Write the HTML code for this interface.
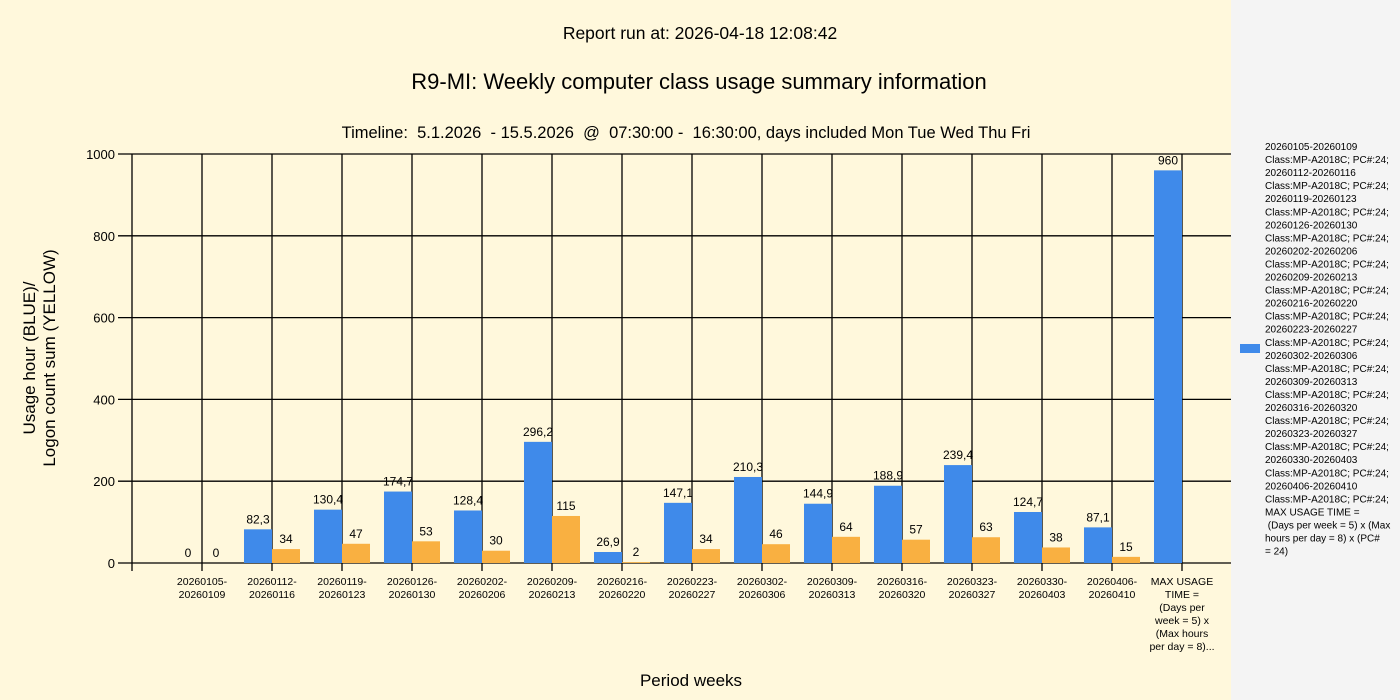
<!DOCTYPE html>
<html><head><meta charset="utf-8">
<style>
html,body{margin:0;padding:0;background:#fff8dc;}
svg{display:block;font-family:"Liberation Sans",sans-serif;}
</style></head>
<body>
<svg id="c" width="1400" height="700" xmlns="http://www.w3.org/2000/svg">
<rect x="0" y="0" width="1400" height="700" fill="#fff8dc"/>
<rect x="1231" y="0" width="169" height="700" fill="#f4f4f4"/>
<text x="700" y="39" font-size="17.5" text-anchor="middle" fill="#000">Report run at: 2026-04-18 12:08:42</text>
<text x="699" y="89" font-size="22" text-anchor="middle" fill="#000">R9-MI: Weekly computer class usage summary information</text>
<text x="686" y="138" font-size="16.5" text-anchor="middle" fill="#000" xml:space="preserve">Timeline:  5.1.2026  - 15.5.2026  @  07:30:00 -  16:30:00, days included Mon Tue Wed Thu Fri</text>
<text transform="translate(35,358) rotate(-90)" font-size="17" text-anchor="middle">Usage hour (BLUE)/</text>
<text transform="translate(55,358) rotate(-90)" font-size="17" text-anchor="middle">Logon count sum (YELLOW)</text>
<text x="691" y="686" font-size="17" text-anchor="middle">Period weeks</text>
<g id="g"></g>
</svg>
<script>
var g=document.getElementById('g'),h='';
var y=function(v){return 563-v*0.409;};
for(var v=0;v<=1000;v+=200){h+='<line x1="118" x2="1231" y1="'+y(v)+'" y2="'+y(v)+'" stroke="#000" stroke-width="1.3"/>';
h+='<text x="115" y="'+(y(v)+5)+'" font-size="13" text-anchor="end">'+v+'</text>';}
for(var i=0;i<=15;i++){var x=132+70*i;h+='<line x1="'+x+'" x2="'+x+'" y1="154" y2="571" stroke="#000" stroke-width="1.3"/>';}
var B=[0,82.3,130.4,174.7,128.4,296.2,26.9,147.1,210.3,144.9,188.9,239.4,124.7,87.1,960];
var Y=[0,34,47,53,30,115,2,34,46,64,57,63,38,15,null];
var BL=["0","82,3","130,4","174,7","128,4","296,2","26,9","147,1","210,3","144,9","188,9","239,4","124,7","87,1","960"];
for(var i=0;i<15;i++){var c=202+70*i;
 h+='<rect x="'+(c-28)+'" y="'+y(B[i])+'" width="28" height="'+(B[i]*0.409)+'" fill="#3f8aea"/>';
 h+='<text x="'+(c-14)+'" y="'+(y(B[i])-6)+'" font-size="12" text-anchor="middle">'+BL[i]+'</text>';
 if(Y[i]!==null){h+='<rect x="'+c+'" y="'+y(Y[i])+'" width="28" height="'+(Y[i]*0.409)+'" fill="#f9b041"/>';
 h+='<text x="'+(c+14)+'" y="'+(y(Y[i])-6)+'" font-size="12" text-anchor="middle">'+Y[i]+'</text>';}
}
var L=["20260105-","20260112-","20260119-","20260126-","20260202-","20260209-","20260216-","20260223-","20260302-","20260309-","20260316-","20260323-","20260330-","20260406-"];
var L2=["20260109","20260116","20260123","20260130","20260206","20260213","20260220","20260227","20260306","20260313","20260320","20260327","20260403","20260410"];
for(var i=0;i<14;i++){var c=202+70*i;
 h+='<text x="'+c+'" y="585" font-size="10.5" text-anchor="middle">'+L[i]+'</text><text x="'+c+'" y="598" font-size="10.5" text-anchor="middle">'+L2[i]+'</text>';}
var M=["MAX USAGE","TIME =","(Days per","week = 5) x","(Max hours","per day = 8)..."];
for(var k=0;k<M.length;k++)h+='<text x="1182" y="'+(585+13*k)+'" font-size="10.5" text-anchor="middle">'+M[k]+'</text>';
var lg=[];var d=["20260105-20260109","20260112-20260116","20260119-20260123","20260126-20260130","20260202-20260206","20260209-20260213","20260216-20260220","20260223-20260227","20260302-20260306","20260309-20260313","20260316-20260320","20260323-20260327","20260330-20260403","20260406-20260410"];
for(var i=0;i<14;i++){lg.push(d[i]);lg.push("Class:MP-A2018C; PC#:24;");}
lg.push("MAX USAGE TIME =");lg.push(" (Days per week = 5) x (Max");lg.push("hours per day = 8) x (PC#");lg.push("= 24)");
for(var k=0;k<lg.length;k++)h+='<text x="1265" y="'+(150+13.05*k)+'" font-size="10" xml:space="preserve">'+lg[k]+'</text>';
h+='<rect x="1240" y="344" width="20" height="9" fill="#3f8aea"/>';
g.innerHTML=h;
</script>
</body></html>
